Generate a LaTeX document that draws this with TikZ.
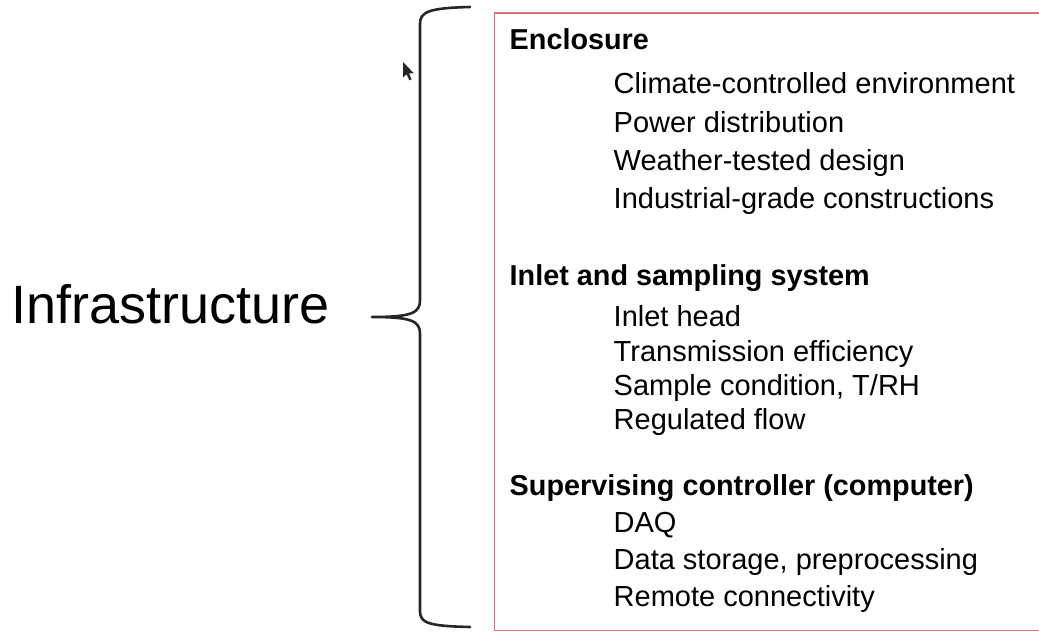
\documentclass[tikz,border=0pt]{standalone}
\usepackage{fontspec}
\setmainfont{Liberation Sans}
\begin{document}
\begin{tikzpicture}[x=1pt,y=-1pt,
  head/.style={anchor=base west,inner sep=0pt,font=\fontsize{28.8}{34}\selectfont\bfseries},
  item/.style={anchor=base west,inner sep=0pt,font=\fontsize{29}{34}\selectfont},
  bigtext/.style={anchor=base west,inner sep=0pt,font=\fontsize{54}{60}\selectfont},
  bracestyle/.style={line width=2.6pt,draw=black!85,line cap=round,line join=round},
  boxstyle/.style={draw={rgb,255:red,222;green,110;blue,120},line width=1.5pt}]
\useasboundingbox[fill=white] (0,0) rectangle (1039,632);
% red frame
\draw[boxstyle] (494.5,13) rectangle (1046,630.5);
% brace
\draw[bracestyle] (470,7) .. controls (428,8) and (420,12) .. (420,24)
  -- (420,300) .. controls (420,313) and (412,317) .. (372,317)
  .. controls (412,317) and (420,321) .. (420,334)
  -- (420,611) .. controls (420,623) and (428,626) .. (470,627);
% mouse cursor
\fill[black!85] (403,62) -- (403,77.5) -- (406.6,74.2) -- (409.3,80.3) -- (411.6,79.3) -- (409,73.3) -- (413.8,73.2) -- cycle;
% left label
\node[bigtext] (infra) at (11,323) {Infrastructure};
% headings and items
\node[head] (h1) at (509.5,49.3) {Enclosure};
\node[item] (a1) at (613.5,93.3) {Climate-controlled environment};
\node[item] (a2) at (613.5,132.2) {Power distribution};
\node[item] (a3) at (613.5,170) {Weather-tested design};
\node[item] (a4) at (613.5,208.5) {Industrial-grade constructions};
\node[head] (h2) at (509.5,285.7) {Inlet and sampling system};
\node[item] (b1) at (613.5,326.5) {Inlet head};
\node[item] (b2) at (613.5,361.5) {Transmission efficiency};
\node[item] (b3) at (613.5,395) {Sample condition, T/RH};
\node[item] (b4) at (613.5,429) {Regulated flow};
\node[head] (h3) at (509.5,495) {Supervising controller (computer)};
\node[item] (c1) at (613.5,532.7) {DAQ};
\node[item] (c2) at (613.5,569.5) {Data storage, preprocessing};
\node[item] (c3) at (613.5,606.5) {Remote connectivity};
\end{tikzpicture}
\end{document}
